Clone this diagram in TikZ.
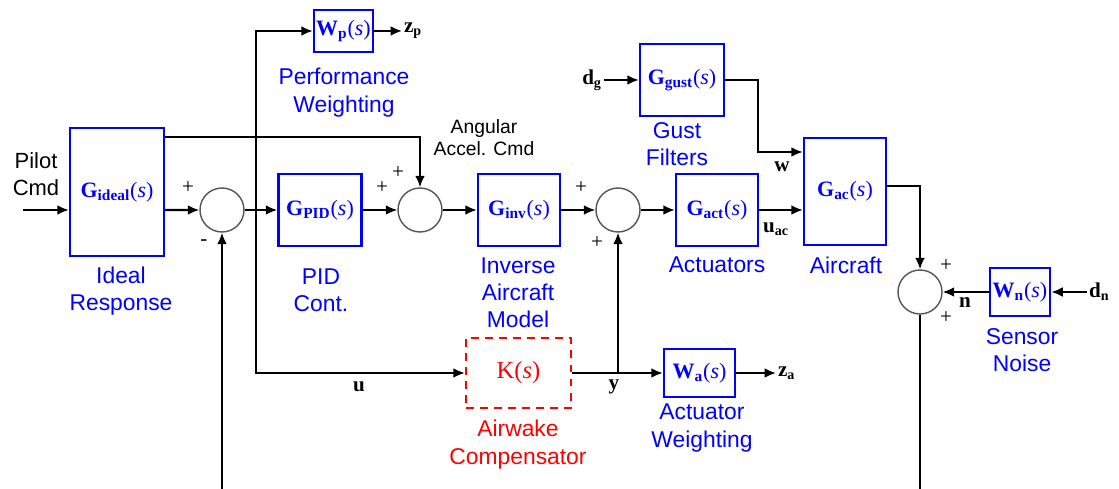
\documentclass[tikz,border=0pt]{standalone}
\usepackage{fontspec}
\setmainfont{Liberation Sans}
\newfontfamily\tnr{Liberation Serif}
\usetikzlibrary{arrows.meta}
\definecolor{hqblue}{HTML}{0000FF}
\definecolor{hqred}{HTML}{FF0000}
\definecolor{hqgrey}{HTML}{555555}
\newcommand\tfG[2]{{\tnr\bfseries #1\textsubscript{#2}}{\tnr(\textit{s})}}

\begin{document}
\begin{tikzpicture}[x=0.2mm, y=-0.2mm,
  blk/.style={draw=hqblue, line width=1.4pt, text=hqblue, inner sep=0pt, font=\fontsize{12.5}{14}\selectfont},
  kbox/.style={draw=hqred, line width=1.4pt, dash pattern=on 4.5pt off 3.5pt, text=hqred, inner sep=0pt, font=\fontsize{14}{16}\selectfont},
  sumc/.style={circle, draw=hqgrey, line width=0.8pt, minimum size=8.8mm, inner sep=0pt},
  sig/.style={-{Latex[length=2.3mm,width=2mm]}, line width=1.25pt},
  capt/.style={align=center, text=hqblue, font=\fontsize{13}{15.5}\selectfont},
  lbl/.style={font=\tnr\bfseries\fontsize{12}{14}\selectfont, inner sep=1pt},
  pm/.style={font=\tnr\fontsize{12}{12}\selectfont, inner sep=0pt}
]
\useasboundingbox (0,0) rectangle (1119,489);
% ---------- blocks ----------
\node[blk, minimum width=18.8mm, minimum height=25.6mm] (gideal) at (117,192) {\tfG{G}{ideal}};
\node[blk, minimum width=16.6mm, minimum height=14.4mm] (gpid) at (320,210) {\tfG{G}{PID}};
\node[blk, minimum width=16.4mm, minimum height=14.4mm] (ginv) at (519,210) {\tfG{G}{inv}};
\node[blk, minimum width=16.4mm, minimum height=14.4mm] (gact) at (717,210) {\tfG{G}{act}};
\node[blk, minimum width=16.4mm, minimum height=21.4mm] (gac) at (845,191.5) {\tfG{G}{ac}};
\node[blk, minimum width=16.8mm, minimum height=14.4mm] (ggust) at (682,80) {\tfG{G}{gust}};
\node[blk, minimum width=11.8mm, minimum height=8.4mm] (wp) at (343.5,31) {\tfG{W}{p}};
\node[blk, minimum width=14.2mm, minimum height=9.6mm] (wa) at (699.5,373) {\tfG{W}{a}};
\node[blk, minimum width=12mm, minimum height=9.6mm] (wn) at (1020,292) {\tfG{W}{n}};
\node[kbox, minimum width=21mm, minimum height=14mm] (kc) at (518.5,373) {\tnr K(\textit{s})};
% ---------- summing junctions ----------
\node[sumc] (sum1) at (222,210) {};
\node[sumc] (sum2) at (420,210) {};
\node[sumc] (sum3) at (618,210) {};
\node[sumc] (sum4) at (920,292) {};
\node[pm] at (188,188) {+};
\node[pm] at (204,243) {-};
\node[pm] at (382,188) {+};
\node[pm] at (398,173) {+};
\node[pm] at (581,188) {+};
\node[pm] at (597,243) {+};
\node[pm] at (946,266) {+};
\node[pm] at (946,318) {+};
% ---------- signal names ----------
\node[align=center, font=\fontsize{12.5}{15.3}\selectfont] (pilot) at (36,174.5) {Pilot\\Cmd};
\node[align=center, font=\fontsize{11}{12.5}\selectfont] (angcmd) at (484,137.5) {Angular\\Accel. Cmd};
\node[lbl, anchor=west] (zp) at (402,31) {z\textsubscript{p}};
\node[lbl, anchor=west] (za) at (776,373) {z\textsubscript{a}};
\node[lbl, anchor=east] (dg) at (604,80) {d\textsubscript{g}};
\node[lbl, anchor=west] (dn) at (1087,292) {d\textsubscript{n}};
\node[lbl] (ulab) at (359,387) {u};
\node[lbl] (ylab) at (614,387) {y};
\node[lbl] (wlab) at (782,167) {w};
\node[lbl] (uaclab) at (776,229) {u\textsubscript{ac}};
\node[lbl] (nlab) at (965,303) {n};
% ---------- captions ----------
\node[capt] at (344,92.5) {Performance\\Weighting};
\node[capt] at (121,291) {Ideal\\Response};
\node[capt] at (321,290) {PID\\Cont.};
\node[capt] at (518,293) {Inverse\\Aircraft\\Model};
\node[capt] at (677,144.5) {Gust\\Filters};
\node[capt] at (717,265) {Actuators};
\node[capt] at (846,265) {Aircraft};
\node[capt] at (1022,350) {Sensor\\Noise};
\node[capt] at (702,428) {Actuator\\Weighting};
\node[capt, text=hqred] at (518,444.5) {Airwake\\Compensator};
% ---------- connectors ----------
\coordinate (pin) at (23,210);
\coordinate (ub) at (256,210);
\coordinate (gw) at (758,152);
\coordinate (yb) at (sum3.south |- kc.east);
\coordinate (fb) at (0,505);
\draw[sig] (pin) -- (pin -| gideal.west);
\draw[sig] ([yshift=-3.6mm]gideal.east) -- (sum1.west);
\draw[sig] (sum1.east) -- (gpid.west);
\draw[sig] (gpid.east) -- (sum2.west);
\draw[sig] ([yshift=-2mm]gideal.north east) -| (sum2.north);
\draw[sig] (sum2.east) -- (ginv.west);
\draw[sig] (ginv.east) -- (sum3.west);
\draw[sig] (sum3.east) -- (gact.west);
\draw[sig] (gact.east) -- (gact.east -| gac.west);
\draw[sig] (dg.east) -- (ggust.west);
\draw[sig] (ggust.east) -| (gw) -- (gw -| gac.west);
\draw[sig] ([yshift=1.1mm]gac.east) -| (sum4.north);
\draw[sig] (dn.west) -- (wn.east);
\draw[sig] (wn.west) -- (sum4.east);
\draw[sig] (sum4.south) -- (sum4.south |- fb) -| (sum1.south);
% u goes to the weighting and to the compensator
\draw[sig] (ub) |- (wp.west);
\draw[sig] (ub) |- (kc.west);
\draw[sig] (wp.east) -- (zp.west);
% y feeds back into the loop
\draw[sig] (kc.east) -- (wa.west);
\draw[sig] (yb) -- (sum3.south);
\draw[sig] (wa.east) -- (za.west);
\end{tikzpicture}
\end{document}
